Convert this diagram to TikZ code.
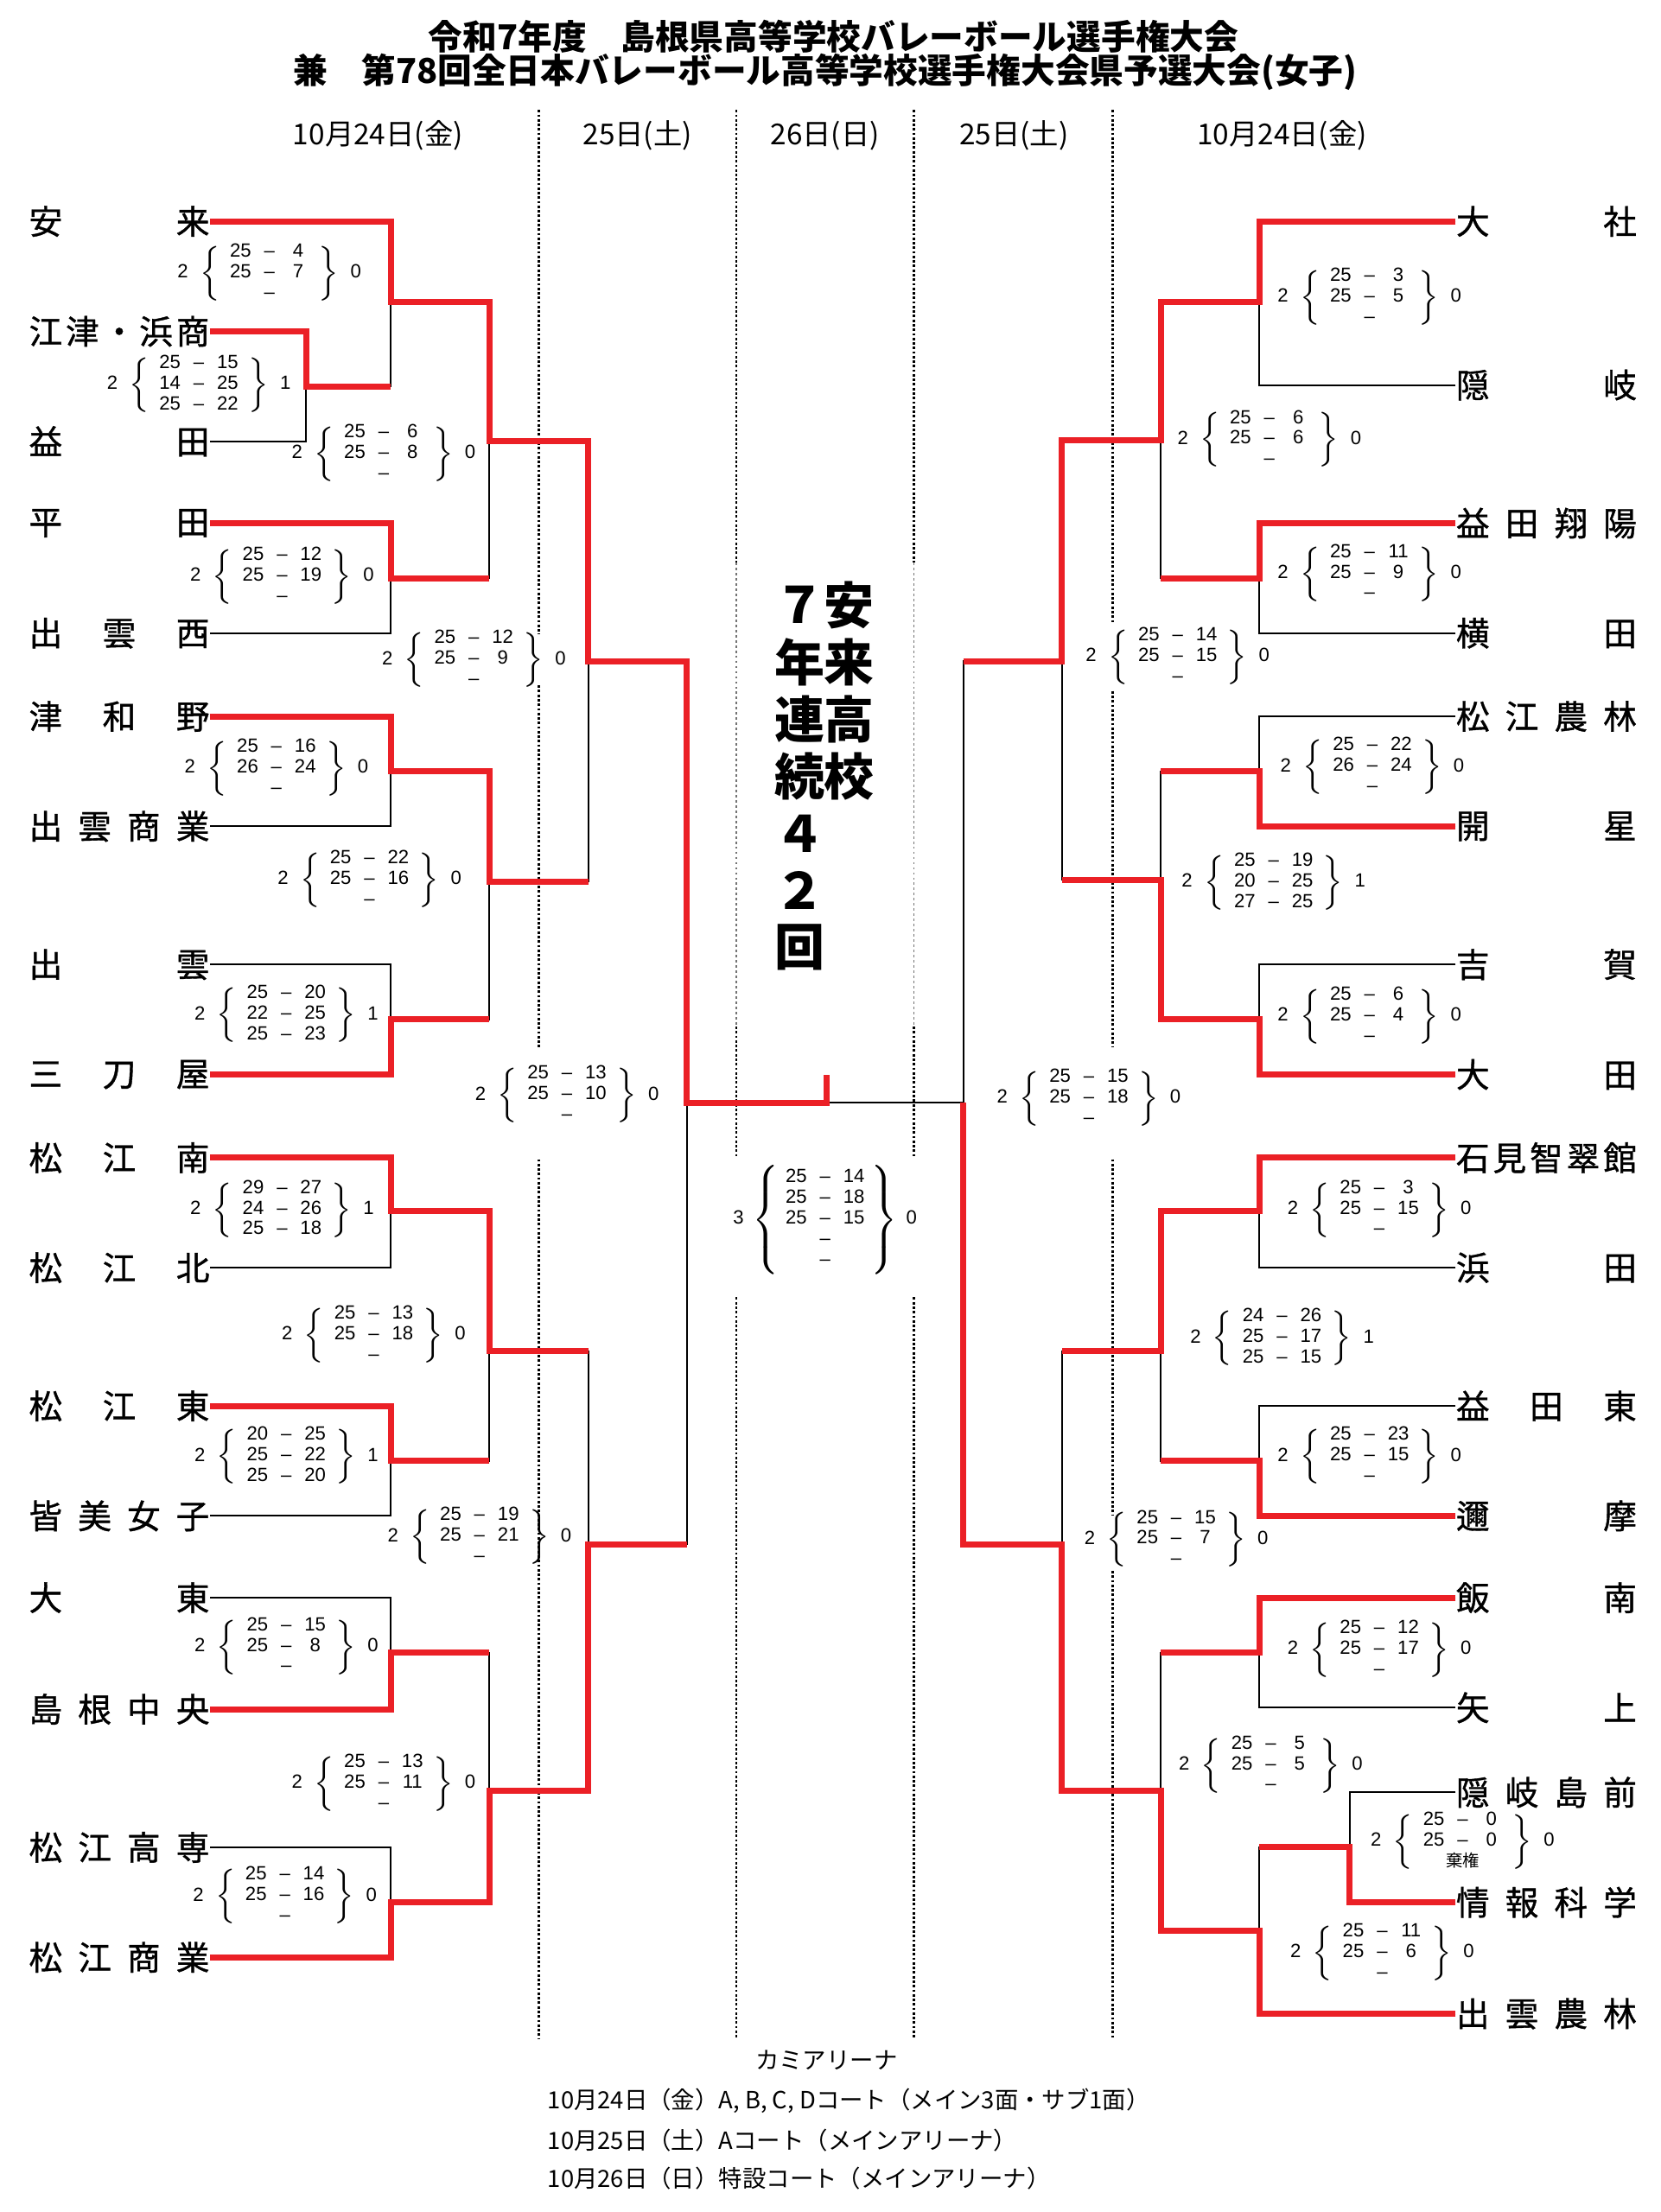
\documentclass[tikz,border=0pt]{standalone}
\usepackage{fontspec}
\usepackage{array}
\setmainfont{Noto Sans CJK JP}
\newfontfamily\numfont{Liberation Sans}
\newfontfamily\namefont[FakeBold=1]{Noto Sans CJK JP}
\usetikzlibrary{calc,positioning}
\definecolor{rouge}{RGB}{235,32,38}
\newlength{\namew}
\setlength{\namew}{2.09cm}
\newcommand{\setsc}[4][14.8pt]{%
  \makebox[9.5pt]{#2}%
  \makebox[9.5pt]{$\left\{\vcenter{\hbox{\rule{0pt}{#1}}}\right.$}%
  \smash{\begin{tabular}{@{}w{c}{9.5pt}@{\makebox[9.5pt]{\textendash}}w{c}{9.5pt}@{}}#3\end{tabular}}%
  \makebox[9.5pt]{$\left.\vcenter{\hbox{\rule{0pt}{#1}}}\right\}$}%
  \makebox[9.5pt]{#4}}
\tikzset{
  titre/.style={inner sep=0pt,font=\fontsize{11.3}{12}\selectfont\bfseries},
  day/.style={inner sep=0pt,font=\fontsize{9.5}{10}\selectfont},
  lname/.style={anchor=east,inner sep=0pt,font=\namefont\fontsize{11}{12}\selectfont},
  rname/.style={anchor=west,inner sep=0pt,font=\namefont\fontsize{11}{12}\selectfont},
  score/.style={inner sep=0pt,font=\numfont\fontsize{6.3}{6.8}\selectfont},
  big/.style={inner sep=0pt,font=\fontsize{16.5}{18}\selectfont\bfseries},
  foot/.style={inner sep=0pt,font=\fontsize{7.8}{9}\selectfont},
  lose/.style={draw=black,line width=0.55pt},
  win/.style={draw=rouge,line width=2pt},
  dotsep/.style={draw=black,line width=0.7pt,dash pattern=on 0.8pt off 0.7pt},
  dotfaint/.style={draw=black!55,line width=0.35pt,dash pattern=on 0.8pt off 0.9pt},
}
\begin{document}
\begin{tikzpicture}[x=0.01632cm,y=-0.01632cm]
  \useasboundingbox (0,0) rectangle (1177.1,1568.6);

  % heading
  \node[titre] (t1) at (591,26) {令和7年度\quad 島根県高等学校バレーボール選手権大会};
  \node[titre] (t2) at (585,51) {兼\quad 第78回全日本バレーボール高等学校選手権大会県予選大会(女子)};
  \node[day] (d1) at (268,96) {10月24日(金)};
  \node[day] (d2) at (452,96) {25日(土)};
  \node[day] (d3) at (585,96) {26日(日)};
  \node[day] (d4) at (719,96) {25日(土)};
  \node[day] (d5) at (909,96) {10月24日(金)};

  % day separators
  \draw[dotsep] (382,78) -- (382,450) (382,486) -- (382,743) (382,822) -- (382,1446);
  \draw[dotsep] (789,78) -- (789,441) (789,490) -- (789,742) (789,822) -- (789,1074) (789,1114) -- (789,1446);
  \foreach \x in {522,648} {
    \draw[dotsep] (\x,78) -- (\x,399) (\x,728) -- (\x,821) (\x,920) -- (\x,1446);
    \draw[dotfaint] (\x,399) -- (\x,728);
  }

  % teams
  \foreach \i/\y/\t in {1/157/安\hfill 来, 2/235/江\hfill 津\hfill ・\hfill 浜\hfill 商,
      3/313/益\hfill 田, 4/371/平\hfill 田, 5/449/出\hfill 雲\hfill 西,
      6/508/津\hfill 和\hfill 野, 7/586/出\hfill 雲\hfill 商\hfill 業,
      8/684/出\hfill 雲, 9/762/三\hfill 刀\hfill 屋, 10/821/松\hfill 江\hfill 南,
      11/899/松\hfill 江\hfill 北, 12/997/松\hfill 江\hfill 東,
      13/1075/皆\hfill 美\hfill 女\hfill 子, 14/1133/大\hfill 東,
      15/1212/島\hfill 根\hfill 中\hfill 央, 16/1310/松\hfill 江\hfill 高\hfill 専,
      17/1388/松\hfill 江\hfill 商\hfill 業}
    \node[lname] (l\i) at (149,\y) {\hbox to \namew{\t}};
  \foreach \i/\y/\t in {1/157/大\hfill 社, 2/273/隠\hfill 岐,
      3/371/益\hfill 田\hfill 翔\hfill 陽, 4/449/横\hfill 田,
      5/508/松\hfill 江\hfill 農\hfill 林, 6/586/開\hfill 星, 7/684/吉\hfill 賀,
      8/762/大\hfill 田, 9/821/石\hfill 見\hfill 智\hfill 翠\hfill 館,
      10/899/浜\hfill 田, 11/997/益\hfill 田\hfill 東, 12/1075/邇\hfill 摩,
      13/1133/飯\hfill 南, 14/1211/矢\hfill 上, 15/1271/隠\hfill 岐\hfill 島\hfill 前,
      16/1349/情\hfill 報\hfill 科\hfill 学, 17/1428/出\hfill 雲\hfill 農\hfill 林}
    \node[rname] (r\i) at (1032,\y) {\hbox to \namew{\t}};

  % bracket points
  \coordinate (ja) at (217,274); \coordinate (jb) at (277,214);
  \coordinate (jc) at (277,410); \coordinate (jd) at (347,313);
  \coordinate (je) at (277,547); \coordinate (jf) at (277,723);
  \coordinate (jg) at (347,625); \coordinate (jh) at (417,469);
  \coordinate (ji) at (277,859); \coordinate (jj) at (277,1036);
  \coordinate (jk) at (347,958); \coordinate (jl) at (277,1172);
  \coordinate (jm) at (277,1349); \coordinate (jn) at (347,1270);
  \coordinate (jo) at (417,1095); \coordinate (jp) at (487,782);
  \coordinate (fin) at (586,782); \coordinate (tick) at (586,762);
  \coordinate (ka) at (893,214); \coordinate (kb) at (893,410);
  \coordinate (kc) at (823,312); \coordinate (kd) at (893,547);
  \coordinate (ke) at (893,723); \coordinate (kf) at (823,624);
  \coordinate (kg) at (753,469); \coordinate (kh) at (893,859);
  \coordinate (ki) at (893,1036); \coordinate (kj) at (823,958);
  \coordinate (kk) at (893,1172); \coordinate (kl) at (957,1310);
  \coordinate (km) at (893,1369); \coordinate (kn) at (823,1270);
  \coordinate (ko) at (753,1095); \coordinate (kp) at (683,782);

  % draw
  \foreach \a/\b in {l1.east/jb,l2.east/ja,l3.east/ja,ja/jb,l4.east/jc,l5.east/jc,jb/jd,jc/jd,
      l6.east/je,l7.east/je,l8.east/jf,l9.east/jf,je/jg,jf/jg,jd/jh,jg/jh,
      l10.east/ji,l11.east/ji,l12.east/jj,l13.east/jj,ji/jk,jj/jk,
      l14.east/jl,l15.east/jl,l16.east/jm,l17.east/jm,jl/jn,jm/jn,jk/jo,jn/jo,jh/jp,jo/jp,jp/fin,
      r1.west/ka,r2.west/ka,r3.west/kb,r4.west/kb,ka/kc,kb/kc,
      r5.west/kd,r6.west/kd,r7.west/ke,r8.west/ke,kd/kf,ke/kf,kc/kg,kf/kg,
      r9.west/kh,r10.west/kh,r11.west/ki,r12.west/ki,kh/kj,ki/kj,
      r13.west/kk,r14.west/kk,r15.west/kl,r16.west/kl,kl/km,r17.west/km,kk/kn,km/kn,
      kj/ko,kn/ko,kg/kp,ko/kp,kp/fin}
    \draw[lose] (\a) -| (\b);

  % winners
  \draw[win] (l1.east) -| (jb) -| (jd) -| (jh) -| (jp) -- (fin) -- (tick);
  \draw[win] (l2.east) -| (ja) -- (ja -| jb);
  \draw[win] (l4.east) -| (jc) -- (jc -| jd);
  \draw[win] (l6.east) -| (je) -| (jg) -- (jg -| jh);
  \draw[win] (l9.east) -| (jf) -- (jf -| jg);
  \draw[win] (l10.east) -| (ji) -| (jk) -- (jk -| jo);
  \draw[win] (l12.east) -| (jj) -- (jj -| jk);
  \draw[win] (l15.east) -| (jl) -- (jl -| jn);
  \draw[win] (l17.east) -| (jm) -| (jn) -| (jo) -- (jo -| jp);
  \draw[win] (r1.west) -| (ka) -| (kc) -| (kg) -- (kg -| kp);
  \draw[win] (r3.west) -| (kb) -- (kb -| kc);
  \draw[win] (r6.west) -| (kd) -- (kd -| kf);
  \draw[win] (r8.west) -| (ke) -| (kf) -- (kf -| kg);
  \draw[win] (r9.west) -| (kh) -| (kj) -- (kj -| ko);
  \draw[win] (r12.west) -| (ki) -- (ki -| kj);
  \draw[win] (r13.west) -| (kk) -- (kk -| kn);
  \draw[win] (r16.west) -| (kl) -- (kl -| km);
  \draw[win] (r17.west) -| (km) -| (kn) -| (ko) -| (kp);

  % scores
  \node[score] (s1) at (191,194) {\setsc{2}{25&4\\25&7\\&}{0}};
  \node[score] (s2) at (141,273) {\setsc{2}{25&15\\14&25\\25&22}{1}};
  \node[score] (s3) at (272,322) {\setsc{2}{25&6\\25&8\\&}{0}};
  \node[score] (s4) at (200,409) {\setsc{2}{25&12\\25&19\\&}{0}};
  \node[score] (s5) at (336,468) {\setsc{2}{25&12\\25&9\\&}{0}};
  \node[score] (s6) at (196,545) {\setsc{2}{25&16\\26&24\\&}{0}};
  \node[score] (s7) at (262,624) {\setsc{2}{25&22\\25&16\\&}{0}};
  \node[score] (s8) at (203,720) {\setsc{2}{25&20\\22&25\\25&23}{1}};
  \node[score] (s9) at (402,777) {\setsc{2}{25&13\\25&10\\&}{0}};
  \node[score] (s10) at (200,858) {\setsc{2}{29&27\\24&26\\25&18}{1}};
  \node[score] (s11) at (265,947) {\setsc{2}{25&13\\25&18\\&}{0}};
  \node[score] (s12) at (203,1033) {\setsc{2}{20&25\\25&22\\25&20}{1}};
  \node[score] (s13) at (340,1090) {\setsc{2}{25&19\\25&21\\&}{0}};
  \node[score] (s14) at (203,1168) {\setsc{2}{25&15\\25&8\\&}{0}};
  \node[score] (s15) at (272,1265) {\setsc{2}{25&13\\25&11\\&}{0}};
  \node[score] (s16) at (202,1345) {\setsc{2}{25&14\\25&16\\&}{0}};
  \node[score] (u1) at (971,211) {\setsc{2}{25&3\\25&5\\&}{0}};
  \node[score] (u2) at (900,312) {\setsc{2}{25&6\\25&6\\&}{0}};
  \node[score] (u3) at (971,407) {\setsc{2}{25&11\\25&9\\&}{0}};
  \node[score] (u4) at (835,466) {\setsc{2}{25&14\\25&15\\&}{0}};
  \node[score] (u5) at (973,544) {\setsc{2}{25&22\\26&24\\&}{0}};
  \node[score] (u6) at (903,626) {\setsc{2}{25&19\\20&25\\27&25}{1}};
  \node[score] (u7) at (971,721) {\setsc{2}{25&6\\25&4\\&}{0}};
  \node[score] (u8) at (772,779) {\setsc{2}{25&15\\25&18\\&}{0}};
  \node[score] (u9) at (978,858) {\setsc{2}{25&3\\25&15\\&}{0}};
  \node[score] (u10) at (909,949) {\setsc{2}{24&26\\25&17\\25&15}{1}};
  \node[score] (u11) at (971,1033) {\setsc{2}{25&23\\25&15\\&}{0}};
  \node[score] (u12) at (834,1092) {\setsc{2}{25&15\\25&7\\&}{0}};
  \node[score] (u13) at (978,1170) {\setsc{2}{25&12\\25&17\\&}{0}};
  \node[score] (u14) at (901,1252) {\setsc{2}{25&5\\25&5\\&}{0}};
  \node[score] (u15) at (1037,1306) {\setsc{2}{25&0\\25&0\\\multicolumn{2}{@{}c@{}}{\rmfamily\fontsize{5.5}{6}\selectfont 棄権}}{0}};
  \node[score] (u16) at (980,1385) {\setsc{2}{25&11\\25&6\\&}{0}};
  \node[score] (fs) at (585,865) {\setsc[35pt]{3}{25&14\\25&18\\25&15\\&\\&}{0}};

  % champion
  \foreach \c [count=\k] in {７,年,連,続,４,２,回}
    \node[big] (ya\k) at (567,{429+40.5*(\k-1)}) {\c};
  \foreach \c [count=\k] in {安,来,高,校}
    \node[big] (yb\k) at (602,{429+40.5*(\k-1)}) {\c};

  % venue
  \node[foot] (v0) at (586,1461) {カミアリーナ};
  \node[foot,anchor=west] (v1) at (388,1490) {10月24日（金）A, B, C, Dコート（メイン3面・サブ1面）};
  \node[foot,anchor=west] (v2) at (388,1518) {10月25日（土）Aコート（メインアリーナ）};
  \node[foot,anchor=west] (v3) at (388,1545) {10月26日（日）特設コート（メインアリーナ）};
\end{tikzpicture}
\end{document}
